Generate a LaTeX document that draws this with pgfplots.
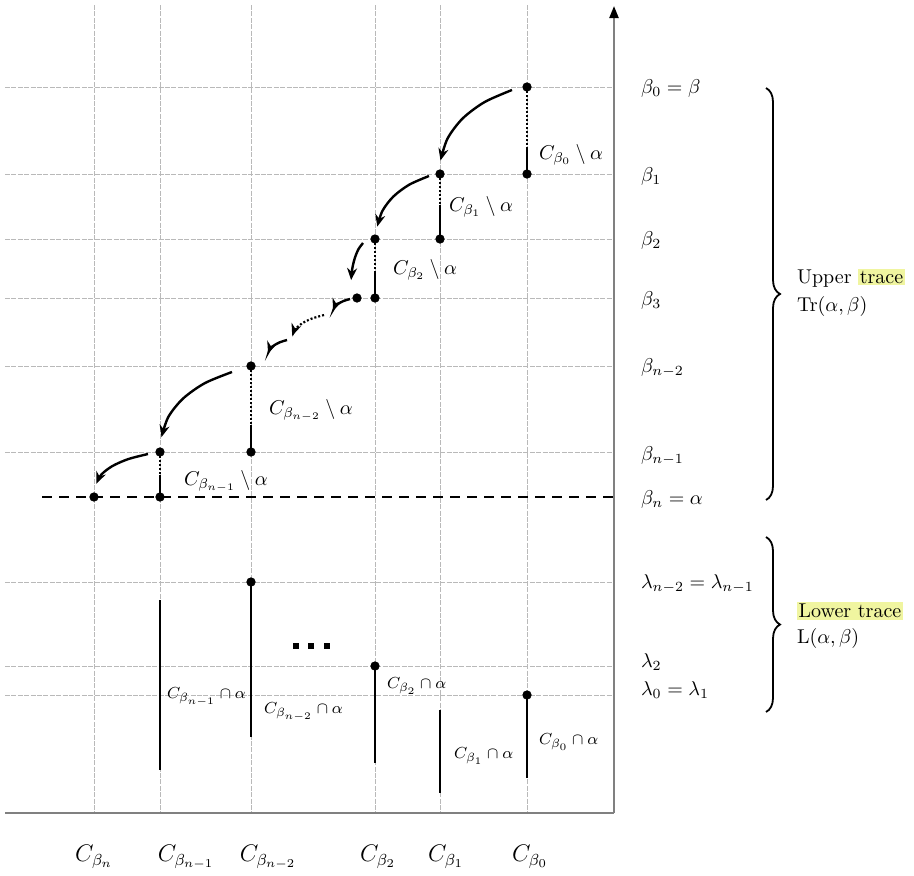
\documentclass[border=0pt]{standalone}
\usepackage{pgfplots}
\pgfplotsset{compat=1.18}
\usetikzlibrary{arrows.meta,decorations.pathreplacing}
\definecolor{hl}{RGB}{240,245,160}
\begin{document}
\begin{tikzpicture}
\tikzset{grd/.style={gray!55, line width=0.45pt, dash pattern=on 2.5pt off 0.7pt},
  sol/.style={black, line width=1.3pt},
  dtt/.style={black, line width=0.8pt, dash pattern=on 0.8pt off 1.2pt},
  arr/.style={black, line width=1.2pt, smooth, -{Stealth[length=6pt,width=5pt]}},
  dot/.style={only marks, mark=*, mark size=2.1pt, black}}
\begin{axis}[width=457pt,height=437.5pt,scale only axis,
  xmin=0,xmax=914,ymin=0,ymax=875,y dir=reverse,hide axis,clip=false]
\addplot[draw=none] coordinates {(0,0) (914,875)};
% vertical grid
\addplot[grd] coordinates {(94,5) (94,813)};
\addplot[grd] coordinates {(160,5) (160,813)};
\addplot[grd] coordinates {(251,5) (251,813)};
\addplot[grd] coordinates {(375,5) (375,813)};
\addplot[grd] coordinates {(440,5) (440,813)};
\addplot[grd] coordinates {(527,5) (527,813)};
% horizontal grid
\addplot[grd] coordinates {(5,87) (614,87)};
\addplot[grd] coordinates {(5,174) (614,174)};
\addplot[grd] coordinates {(5,239) (614,239)};
\addplot[grd] coordinates {(5,298) (614,298)};
\addplot[grd] coordinates {(5,366) (614,366)};
\addplot[grd] coordinates {(5,452) (614,452)};
\addplot[grd] coordinates {(5,582) (614,582)};
\addplot[grd] coordinates {(5,666) (614,666)};
\addplot[grd] coordinates {(5,695) (614,695)};
% axes
\addplot[gray, line width=1.1pt] coordinates {(5,813) (614,813)};
\addplot[gray, line width=1.1pt, -{Triangle[length=6pt,width=4.5pt,black]}] coordinates {(614,813) (614,6)};
% dashed alpha line
\addplot[black, line width=1.3pt, dash pattern=on 5pt off 3.5pt] coordinates {(42,497) (614,497)};
% upper segments
\addplot[dtt] coordinates {(527,87) (527,148)};
\addplot[sol] coordinates {(527,148) (527,174)};
\addplot[dtt] coordinates {(440,174) (440,205)};
\addplot[sol] coordinates {(440,205) (440,239)};
\addplot[dtt] coordinates {(375,239) (375,272)};
\addplot[sol] coordinates {(375,272) (375,298)};
\addplot[dtt] coordinates {(251,366) (251,425)};
\addplot[sol] coordinates {(251,425) (251,452)};
\addplot[dtt] coordinates {(160,452) (160,475)};
\addplot[sol] coordinates {(160,475) (160,497)};
% curved arrows
\addplot[arr] coordinates {(512,90) (484.5,102.1) (462.5,118.6) (447.5,138.6) (440.5,160.5)};
\addplot[arr] coordinates {(429,176) (409.2,184.7) (393.3,196.6) (382.4,210.9) (377.3,226.6)};
\addplot[arr] coordinates {(363,243) (358.4,249.3) (354.8,258.1) (352.3,268.5) (351.1,280.1)};
\addplot[arr] coordinates {(350,299) (343.5,301) (338.3,303.8) (334.8,307.1) (333.1,310.7)};
\addplot[black, line width=1.1pt, smooth, dash pattern=on 1pt off 1pt, -{Stealth[length=6pt,width=5pt]}] coordinates {(324,315) (311.8,318.6) (302,323.4) (295.3,329.3) (292.2,335.8)};
\addplot[arr] coordinates {(287,340) (279.8,342.3) (273.9,345.5) (270,349.3) (268.1,353.6)};
\addplot[arr] coordinates {(232,372) (204.9,383.1) (183.2,398.4) (168.4,416.8) (161.5,437.1)};
\addplot[arr] coordinates {(148,454) (128.2,459.1) (112.3,466.1) (101.4,474.5) (96.3,483.8)};
% lower segments
\addplot[sol] coordinates {(160,600) (160,770)};
\addplot[sol] coordinates {(251,582) (251,737)};
\addplot[sol] coordinates {(375,666) (375,763)};
\addplot[sol] coordinates {(440,710) (440,793)};
\addplot[sol] coordinates {(527,695) (527,778)};
% ellipsis
\addplot[only marks, mark=square*, mark size=1.2pt, black] coordinates {(296,646) (311,646) (327,646)};
% dots
\addplot[dot] coordinates {(527,87) (527,174) (440,174) (440,239) (375,239) (375,298) (357,298)
  (251,366) (251,452) (160,452) (160,497) (94,497) (251,582) (375,666) (527,695)};
% upper labels
\node[anchor=west] at (axis cs:532,155) {$C_{\beta_0}\setminus\alpha$};
\node[anchor=west] at (axis cs:442,207) {$C_{\beta_1}\setminus\alpha$};
\node[anchor=west] at (axis cs:386,270) {$C_{\beta_2}\setminus\alpha$};
\node[anchor=west] at (axis cs:262,410) {$C_{\beta_{n-2}}\setminus\alpha$};
\node[anchor=west] at (axis cs:177,481) {$C_{\beta_{n-1}}\setminus\alpha$};
% lower labels
\node[anchor=west,font=\footnotesize] at (axis cs:160,697) {$C_{\beta_{n-1}}\cap\alpha$};
\node[anchor=west,font=\footnotesize] at (axis cs:257,712) {$C_{\beta_{n-2}}\cap\alpha$};
\node[anchor=west,font=\footnotesize] at (axis cs:380,686) {$C_{\beta_2}\cap\alpha$};
\node[anchor=west,font=\footnotesize] at (axis cs:447,756) {$C_{\beta_1}\cap\alpha$};
\node[anchor=west,font=\footnotesize] at (axis cs:532,742) {$C_{\beta_0}\cap\alpha$};
% right labels
\node[anchor=west] at (axis cs:634,88) {$\beta_0=\beta$};
\node[anchor=west] at (axis cs:634,176) {$\beta_1$};
\node[anchor=west] at (axis cs:634,240) {$\beta_2$};
\node[anchor=west] at (axis cs:634,300) {$\beta_3$};
\node[anchor=west] at (axis cs:634,368) {$\beta_{n-2}$};
\node[anchor=west] at (axis cs:634,456) {$\beta_{n-1}$};
\node[anchor=west] at (axis cs:634,499) {$\beta_n=\alpha$};
\node[anchor=west] at (axis cs:634,584) {$\lambda_{n-2}=\lambda_{n-1}$};
\node[anchor=west] at (axis cs:634,662) {$\lambda_2$};
\node[anchor=west] at (axis cs:634,690) {$\lambda_0=\lambda_1$};
% braces
\draw[decorate, decoration={brace, amplitude=7pt}, line width=0.9pt] (axis cs:766,88) -- (axis cs:766,500);
\draw[decorate, decoration={brace, amplitude=7pt}, line width=0.9pt] (axis cs:766,537) -- (axis cs:766,712);
\setlength{\fboxsep}{0.8pt}
\node[anchor=west] at (axis cs:790,278) {Upper \colorbox{hl}{trace}};
\node[anchor=west] at (axis cs:790,306) {$\mathrm{Tr}(\alpha,\beta)$};
\node[anchor=west] at (axis cs:790,611) {\colorbox{hl}{Lower trace}};
\node[anchor=west] at (axis cs:790,638) {$\mathrm{L}(\alpha,\beta)$};
% bottom labels
\node[font=\large] at (axis cs:94,857) {$C_{\beta_n}$};
\node[font=\large] at (axis cs:186,857) {$C_{\beta_{n-1}}$};
\node[font=\large] at (axis cs:268,857) {$C_{\beta_{n-2}}$};
\node[font=\large] at (axis cs:378,857) {$C_{\beta_2}$};
\node[font=\large] at (axis cs:446,857) {$C_{\beta_1}$};
\node[font=\large] at (axis cs:530,857) {$C_{\beta_0}$};
\end{axis}
\end{tikzpicture}
\end{document}
